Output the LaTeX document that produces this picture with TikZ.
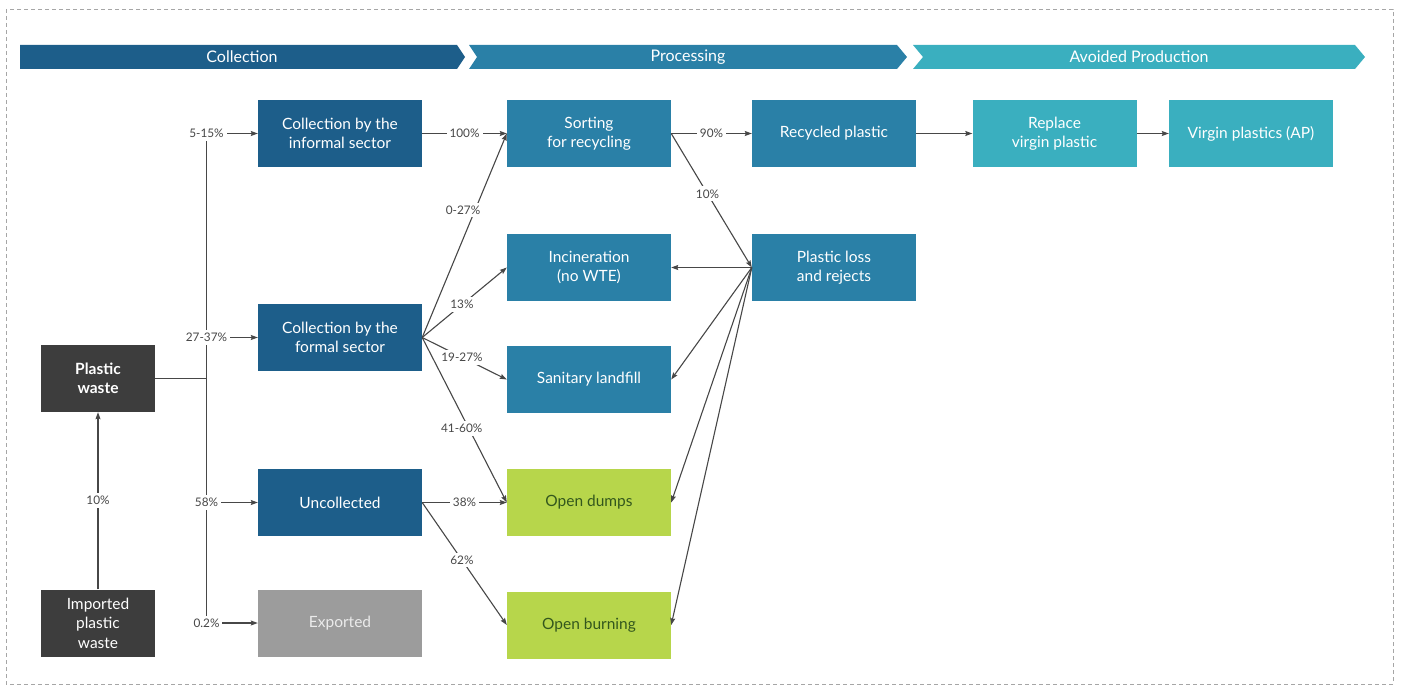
\documentclass[tikz,border=0pt]{standalone}
\usepackage{fontspec}
\setmainfont{Lato}
\usepackage{xcolor}
\usetikzlibrary{arrows.meta}

\definecolor{colblue}{HTML}{1D5E8A}
\definecolor{procblue}{HTML}{2A80A7}
\definecolor{avoidteal}{HTML}{3AAFBF}
\definecolor{wastegray}{HTML}{3D3D3D}
\definecolor{exportgray}{HTML}{9C9C9C}
\definecolor{dumpgreen}{HTML}{B7D64B}
\definecolor{dumptext}{HTML}{33571D}
\definecolor{flowgray}{HTML}{474747}

\tikzset{
  box/.style={minimum width=164pt, minimum height=67pt, inner sep=0pt, align=center,
    text=white, font=\fontsize{15.5}{19.5}\selectfont},
  srcbox/.style={box, minimum width=114pt},
  banner/.style={text=white, font=\fontsize{16}{18}\selectfont},
  pct/.style={fill=white, inner sep=3pt, text=flowgray, font=\fontsize{11.8}{13}\selectfont},
  link/.style={draw=flowgray, line width=1.1pt},
  flow/.style={link, -{Stealth[length=7pt, width=5pt, inset=1pt]}},
}

\begin{document}
\begin{tikzpicture}[x=1pt, y=-1pt]
\useasboundingbox (0,0) rectangle (1402,690);
\draw[black!35, dash pattern=on 4pt off 3pt, line width=0.8pt] (6,9) rectangle (1393,684);

% stage banners
\fill[colblue] (20,45) -- (457,45) -- (465,57) -- (457,69) -- (20,69) -- cycle;
\fill[procblue] (469,45) -- (897,45) -- (907,57) -- (897,69) -- (469,69) -- (477,57) -- cycle;
\fill[avoidteal] (913,45) -- (1355,45) -- (1365,57) -- (1355,69) -- (913,69) -- (923,57) -- cycle;
\node[banner] (bcol) at (242,57) {Collection};
\node[banner] (bproc) at (688,57) {Processing};
\node[banner] (bavoid) at (1139,57) {Avoided Production};

% sources
\node[srcbox, fill=wastegray, font=\fontsize{15.5}{19.5}\selectfont\bfseries] (waste) at (98,378.5) {Plastic\\waste};
\node[srcbox, fill=wastegray] (imported) at (98,623) {Imported\\plastic\\waste};

% collection
\node[box, fill=colblue] (informal) at (340,133.5) {Collection by the\\informal sector};
\node[box, fill=colblue] (formal) at (340,337.5) {Collection by the\\formal sector};
\node[box, fill=colblue] (uncollected) at (340,502.5) {Uncollected};
\node[box, fill=exportgray, text=white!92!black] (exported) at (340,623) {Exported};

% processing
\node[box, fill=procblue] (sorting) at (589,133.5) {Sorting\\for recycling};
\node[box, fill=procblue] (incineration) at (589,267.5) {Incineration\\(no WTE)};
\node[box, fill=procblue] (landfill) at (589,379.5) {Sanitary landfill};
\node[box, fill=dumpgreen, text=dumptext] (dumps) at (589,502.5) {Open dumps};
\node[box, fill=dumpgreen, text=dumptext] (burning) at (589,625) {Open burning};
\node[box, fill=procblue] (recycled) at (834,133.5) {Recycled plastic};
\node[box, fill=procblue] (loss) at (834,267.5) {Plastic loss\\and rejects};

% avoided production
\node[box, fill=avoidteal] (replace) at (1054.5,133.5) {Replace\\virgin plastic};
\node[box, fill=avoidteal] (virgin) at (1251,133.5) {Virgin plastics (AP)};

% split of the waste stream
\coordinate (t1) at (206.5,133.5);
\coordinate (t2) at (206.5,337.5);
\coordinate (t3) at (206.5,502.5);
\coordinate (t4) at (206.5,623);
\draw[link] (t1) -- (t4);
\draw[link] (waste.east) -- (waste.east -| t1);
\draw[flow] (t1) node[pct] {5-15\%} -- (informal.west);
\draw[flow] (t2) node[pct] {27-37\%} -- (formal.west);
\draw[flow] (t3) node[pct] {58\%} -- (uncollected.west);
\draw[flow] (t4) node[pct] {0.2\%} -- (exported.west);
\draw[flow] (imported.north) -- node[pct] {10\%} (waste.south);

% flows to processing
\draw[flow] (informal.east) -- node[pct] {100\%} (sorting.west);
\draw[flow] (formal.east) -- node[pct, pos=0.625, xshift=-12pt] {0-27\%} (sorting.west);
\draw[flow] (formal.east) -- node[pct, pos=0.47] {13\%} (incineration.west);
\draw[flow] (formal.east) -- node[pct, pos=0.47] {19-27\%} (landfill.west);
\draw[flow] (formal.east) -- node[pct, pos=0.55, xshift=-7pt] {41-60\%} (dumps.west);
\draw[flow] (uncollected.east) -- node[pct] {38\%} (dumps.west);
\draw[flow] (uncollected.east) -- node[pct, pos=0.47] {62\%} (burning.west);

% recycling chain
\draw[flow] (sorting.east) -- node[pct] {90\%} (recycled.west);
\draw[flow] (sorting.east) -- node[pct, pos=0.45] {10\%} (loss.west);
\draw[flow] (recycled.east) -- (replace.west);
\draw[flow] (replace.east) -- (virgin.west);

% rejects back to disposal
\foreach \dest in {incineration, landfill, dumps, burning}
  \draw[flow] (loss.west) -- (\dest.east);
\end{tikzpicture}
\end{document}
